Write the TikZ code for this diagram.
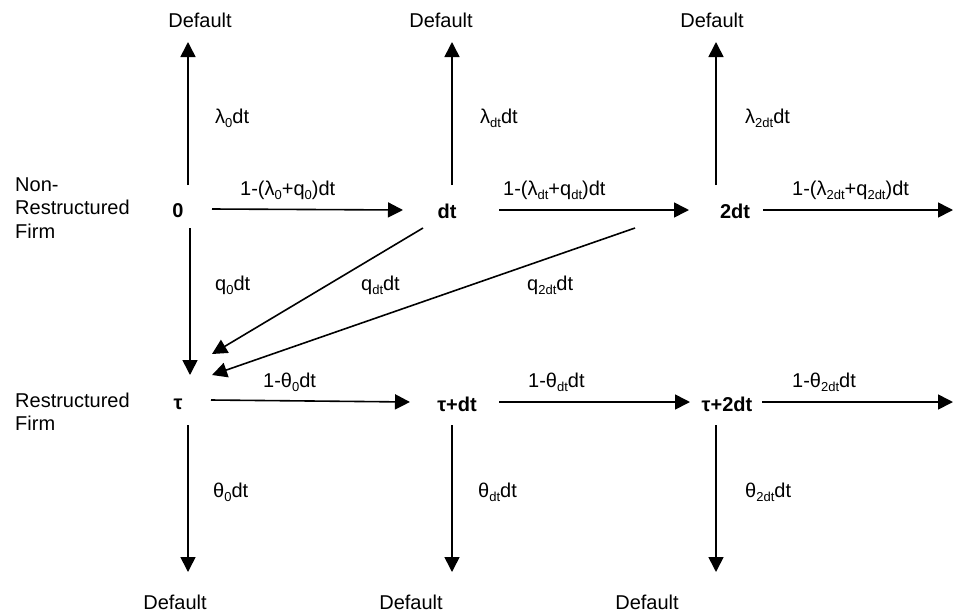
\documentclass[tikz,border=0pt]{standalone}
\usepackage{fontspec}
\setmainfont{Liberation Sans}
\usetikzlibrary{arrows.meta,calc}
\newcommand\lowidx[1]{\raisebox{-4pt}{\fontsize{13}{13}\selectfont #1}}
\tikzset{
  arr/.style={line width=1.6pt,-{Triangle[length=15pt,width=15pt]}},
  lbl/.style={inner sep=0pt,anchor=west},
  st/.style={inner sep=0pt,font=\fontsize{20}{23.5}\selectfont\bfseries},
  dflt/.style={inner sep=0pt},
  side/.style={inner sep=0pt,anchor=west,align=left}
}
\begin{document}
\begin{tikzpicture}[x=1pt,y=-1pt,font=\fontsize{20}{23.5}\selectfont]
\useasboundingbox (0,0) rectangle (956,614);
% side labels
\node[side] (nrf) at (15,208) {Non-\\Restructured\\Firm};
\node[side] (rf) at (15,411.5) {Restructured\\Firm};
% states
\node[st] (n0) at (178,211) {0};
\node[st] (ndt) at (447,211) {dt};
\node[st] (n2dt) at (735,211) {2dt};
\node[st] (nt) at (178,404) {τ};
\node[st] (ntdt) at (457,404) {τ+dt};
\node[st] (nt2dt) at (727,404) {τ+2dt};
% defaults
\node[dflt] (dT0) at (200,20) {Default};
\node[dflt] (dT1) at (441,20) {Default};
\node[dflt] (dT2) at (712,20) {Default};
\node[dflt] (dB0) at (175,602) {Default};
\node[dflt] (dB1) at (411,602) {Default};
\node[dflt] (dB2) at (647,602) {Default};
\coordinate (e1) at (953,210);
\coordinate (e2) at (953,402);
% row 1 arrows
\draw[arr] ($(n0)+(10,-26)$) -- ($(dT0)+(-12,22)$);
\draw[arr] ($(ndt)+(5,-26)$) -- ($(dT1)+(11,22)$);
\draw[arr] ($(n2dt)+(-19,-26)$) -- ($(dT2)+(4,22)$);
\draw[arr] ($(n0)+(34,-2)$) -- ($(ndt)+(-44,-1)$);
\draw[arr] ($(ndt)+(52,-1)$) -- ($(n2dt)+(-46,-1)$);
\draw[arr] ($(n2dt)+(28,-1)$) -- (e1);
\draw[arr] ($(n0)+(12,17)$) -- ($(nt)+(12,-29)$);
\draw[arr] ($(ndt)+(-24,17)$) -- ($(nt)+(34,-50)$);
\draw[arr] ($(n2dt)+(-100,17)$) -- ($(nt)+(34,-29)$);
% row 2 arrows
\draw[arr] ($(nt)+(33,-4)$) -- ($(ntdt)+(-47,-2)$);
\draw[arr] ($(ntdt)+(42,-2)$) -- ($(nt2dt)+(-37,-2)$);
\draw[arr] ($(nt2dt)+(35,-2)$) -- (e2);
\draw[arr] ($(nt)+(10,21)$) -- ($(dB0)+(13,-30)$);
\draw[arr] ($(ntdt)+(-5,21)$) -- ($(dB1)+(41,-30)$);
\draw[arr] ($(nt2dt)+(-11,21)$) -- ($(dB2)+(69,-30)$);
% labels
\node[lbl] (l1) at (215,118) {λ\lowidx{0}dt};
\node[lbl] (l2) at (480,118) {λ\lowidx{dt}dt};
\node[lbl] (l3) at (745,118) {λ\lowidx{2dt}dt};
\node[lbl] (h1) at (240,190) {1-(λ\lowidx{0}+q\lowidx{0})dt};
\node[lbl] (h2) at (503,190) {1-(λ\lowidx{dt}+q\lowidx{dt})dt};
\node[lbl] (h3) at (792,190) {1-(λ\lowidx{2dt}+q\lowidx{2dt})dt};
\node[lbl] (q1) at (215,285) {q\lowidx{0}dt};
\node[inner sep=0pt,anchor=east] (q2) at (400,285) {q\lowidx{dt}dt};
\node[lbl] (q3) at (527,285) {q\lowidx{2dt}dt};
\node[lbl] (g1) at (263,382) {1-θ\lowidx{0}dt};
\node[lbl] (g2) at (528,382) {1-θ\lowidx{dt}dt};
\node[lbl] (g3) at (792,382) {1-θ\lowidx{2dt}dt};
\node[lbl] (t1) at (213,492) {θ\lowidx{0}dt};
\node[lbl] (t2) at (478,492) {θ\lowidx{dt}dt};
\node[lbl] (t3) at (745,492) {θ\lowidx{2dt}dt};
\end{tikzpicture}
\end{document}
